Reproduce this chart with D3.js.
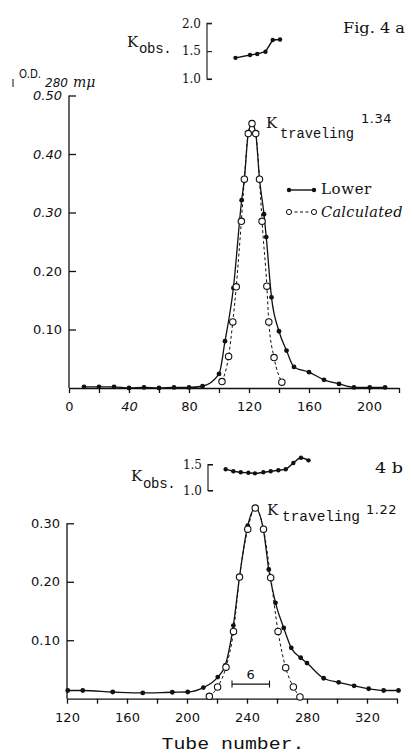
<!DOCTYPE html>
<html><head><meta charset="utf-8">
<script src="https://cdn.jsdelivr.net/npm/d3@7"></script>
<style>
html,body{margin:0;padding:0;background:#fff;}
svg{display:block;}
text{fill:#111;}
</style></head>
<body>
<svg id="c" width="413" height="755"></svg>
<script>
// ---------- DATA ----------
// Fig. 4a (tube number, O.D. 280 mμ)
const aLowerTube = [10,20,30,40,50,60,70,80,89,100,104,109.6,115.1,116.9,119.5,122,124.5,127,130,131.5,135,140,145,150,160,170,180,190,200.5,210.7];
const aLowerOD   = [0.002,0.002,0.002,0.0,0.001,0.0,0.001,0.001,0.003,0.024,0.080,0.171,0.321,0.357,0.435,0.452,0.435,0.357,0.297,0.258,0.155,0.097,0.064,0.036,0.027,0.014,0.007,0.001,0.001,0.001];
const aCalcTube  = [102,106.4,109.2,111.5,114.9,116.9,119.5,122,124.5,127,128.7,131.9,133.2,136.7,141.9];
const aCalcOD    = [0.011,0.054,0.113,0.173,0.285,0.357,0.435,0.452,0.435,0.357,0.285,0.174,0.113,0.052,0.010];
const aKTube     = [111,120.7,125.5,131,135.8,140.7];
const aKobs      = [1.38,1.43,1.45,1.49,1.70,1.71];
const aKtrav     = "1.34";
// Fig. 4b
const bLowerTube = [120.5,130.5,150.5,170.5,190.2,200.5,210.9,220.5,225.5,230.9,235,240.5,245.5,251,254.5,259,264.5,269.5,275.8,280,291.1,301.1,311.4,321.1,331.1,341];
const bLowerOD   = [0.014,0.014,0.0115,0.0098,0.011,0.0115,0.019,0.037,0.057,0.125,0.208,0.296,0.326,0.288,0.221,0.164,0.121,0.087,0.070,0.061,0.035,0.028,0.022,0.017,0.014,0.014];
const bCalcTube  = [214.9,220.4,226,231,235,240.5,245.5,251,255.8,260.7,265.8,270.9,275.3];
const bCalcOD    = [0.004,0.020,0.054,0.115,0.208,0.290,0.326,0.290,0.207,0.115,0.053,0.020,0.003];
const bKTube     = [225.8,230.9,235.8,240.9,245.3,250.9,255.8,260.9,265.8,270.9,276,281];
const bKobs      = [1.41,1.37,1.35,1.34,1.33,1.35,1.37,1.39,1.41,1.53,1.63,1.58];
const bKtrav     = "1.22";
const bScaleBar  = [230,255];
const bScaleLabel = "6";
// tick labels
const aXTicks = [0,20,40,60,80,100,120,140,160,180,200,220];
const aXLabels = [0,40,80,120,160,200];
const aYTicks = [0.10,0.20,0.30,0.40,0.50];
const bXTicks = [120,140,160,180,200,220,240,260,280,300,320,340];
const bXLabels = [120,160,200,240,280,320];
const bYTicks = [0.10,0.20,0.30];
const aKTicks = [1.0,1.5,2.0];
const bKTicks = [1.0,1.5];

// ---------- SCALES ----------
const svg = d3.select("#c");
const xA = d3.scaleLinear([0,220],[69,399]);
const yA = d3.scaleLinear([0,0.5],[388,95.5]);
const xB = d3.scaleLinear([120,340],[67,397]);
const yB = d3.scaleLinear([0,0.3],[698.7,523.3]);
const yKA = d3.scaleLinear([1,2],[79,23.3]);
const yKB = d3.scaleLinear([1,1.5],[490.5,464.5]);

const tickFont = "DejaVu Sans, sans-serif";
const monoFont = "Liberation Mono, DejaVu Sans Mono, monospace";
const serifFont = "DejaVu Serif, Liberation Serif, serif";

function styleAxis(g, w){
  g.selectAll("path.domain").attr("stroke","#111").attr("stroke-width",w);
  g.selectAll(".tick line").attr("stroke","#111").attr("stroke-width",w);
  g.selectAll(".tick text").attr("font-family",tickFont).attr("font-size",13).attr("fill","#111");
}

function panel(x, y, xTicks, xLabels, yTicks, italicY, italicX, lower, lowerV, calc, calcV){
  const gx = svg.append("g").attr("transform",`translate(0,${y(0)})`)
    .call(d3.axisBottom(x).tickValues(xTicks).tickSizeInner(5).tickSizeOuter(0).tickPadding(9)
      .tickFormat(d => xLabels.includes(d) ? d3.format("d")(d) : ""));
  styleAxis(gx,1.3);
  gx.selectAll(".tick text").attr("font-style", d => italicX.includes(d) ? "italic" : "normal");
  const gy = svg.append("g").attr("transform",`translate(${x.range()[0]},0)`)
    .call(d3.axisLeft(y).tickValues(yTicks).tickSizeInner(-7).tickSizeOuter(0).tickPadding(7)
      .tickFormat(d3.format(".2f")));
  gy.select("path.domain").attr("d",`M0,${y(0)}V${y(yTicks[yTicks.length-1])}`);
  styleAxis(gy,1.3);
  gy.selectAll(".tick text").attr("font-style", d => italicY.includes(d) ? "italic" : "normal");

  const lowerPts = lower.map((t,i)=>[x(t),y(lowerV[i])]);
  const calcPts = calc.map((t,i)=>[x(t),y(calcV[i])]);
  const line = d3.line().curve(d3.curveMonotoneX);
  svg.append("path").attr("d",line(calcPts)).attr("fill","none").attr("stroke","#111")
    .attr("stroke-width",1).attr("stroke-dasharray","3,2.5");
  svg.append("path").attr("d",line(lowerPts)).attr("fill","none").attr("stroke","#111")
    .attr("stroke-width",1.3);
  svg.append("g").selectAll("circle").data(lowerPts).join("circle")
    .attr("cx",d=>d[0]).attr("cy",d=>d[1]).attr("r",2.4).attr("fill","#111");
  svg.append("g").selectAll("circle").data(calcPts).join("circle")
    .attr("cx",d=>d[0]).attr("cy",d=>d[1]).attr("r",3.2).attr("fill","#fff")
    .attr("stroke","#111").attr("stroke-width",1.1);
}

panel(xA,yA,aXTicks,aXLabels,aYTicks,[0.3,0.4,0.5],[40],aLowerTube,aLowerOD,aCalcTube,aCalcOD);
panel(xB,yB,bXTicks,bXLabels,bYTicks,[],[],bLowerTube,bLowerOD,bCalcTube,bCalcOD);

// ---------- K obs insets ----------
function inset(ax, yK, ticks, tubes, vals, xs, curve){
  const g = svg.append("g").attr("transform",`translate(${ax},0)`)
    .call(d3.axisLeft(yK).tickValues(ticks).tickSizeInner(-5).tickSizeOuter(-5).tickPadding(6)
      .tickFormat(d3.format(".1f")));
  g.select("path.domain").attr("d",`M5,${yK.range()[0]}H0V${yK(ticks[ticks.length-1])}H5`);
  styleAxis(g,1.1);
  g.selectAll(".tick text").attr("font-size",12).attr("font-family",serifFont);
  const pts = tubes.map((t,i)=>[xs(t),yK(vals[i])]);
  svg.append("path").attr("d",d3.line().curve(curve)(pts)).attr("fill","none")
    .attr("stroke","#111").attr("stroke-width",1.4);
  svg.append("g").selectAll("circle").data(pts).join("circle")
    .attr("cx",d=>d[0]).attr("cy",d=>d[1]).attr("r",2.2).attr("fill","#111");
}
inset(207, yKA, aKTicks, aKTube, aKobs, xA, d3.curveLinear);
inset(208, yKB, bKTicks, bKTube, bKobs, xB, d3.curveMonotoneX);

// ---------- TEXT ----------
function txt(x,y,s,opts={}){
  const t = svg.append("text").attr("x",x).attr("y",y).text(s)
    .attr("font-family",opts.font||serifFont).attr("font-size",opts.size||13);
  if(opts.anchor) t.attr("text-anchor",opts.anchor);
  if(opts.style) t.attr("font-style",opts.style);
  if(opts.ls) t.attr("letter-spacing",opts.ls);
  if(opts.len) t.attr("textLength",opts.len).attr("lengthAdjust","spacingAndGlyphs");
  return t;
}
// K_obs labels
txt(127,47,"K",{size:15,font:serifFont});
txt(139,53,"obs.",{size:14,font:monoFont,ls:-0.3});
txt(131,481,"K",{size:15,font:serifFont});
txt(143,488,"obs.",{size:14,font:monoFont,ls:-0.3});
// Fig labels
txt(343,33,"Fig. 4 a",{size:15,font:serifFont,len:62});
txt(375,473,"4 b",{size:14,font:serifFont,len:28});
// O.D. label
svg.append("line").attr("x1",13).attr("x2",13).attr("y1",79).attr("y2",87).attr("stroke","#111").attr("stroke-width",1);
txt(19,78,"O.D.",{size:12,font:tickFont,len:22});
txt(45,87,"280",{size:12,font:tickFont,style:"italic"});
txt(73,87,"mμ",{size:14,font:serifFont,style:"italic"});
// K traveling
txt(266,128,"K",{size:15,font:serifFont});
txt(280,138,"traveling",{size:14,font:monoFont,len:74});
txt(361,123,aKtrav,{size:13,font:tickFont,ls:0.5});
txt(267,515,"K",{size:15,font:serifFont});
txt(282,521,"traveling",{size:14,font:monoFont,len:78});
txt(366,514,bKtrav,{size:13,font:tickFont,ls:0.5});
// Legend
const legX = [289,314];
svg.append("line").attr("x1",legX[0]).attr("x2",legX[1]).attr("y1",190).attr("y2",190).attr("stroke","#111").attr("stroke-width",1.4);
legX.forEach(v=>svg.append("circle").attr("cx",v).attr("cy",190).attr("r",2.2).attr("fill","#111"));
svg.append("line").attr("x1",legX[0]).attr("x2",legX[1]).attr("y1",212).attr("y2",212).attr("stroke","#111").attr("stroke-width",1).attr("stroke-dasharray","3,2.5");
legX.forEach(v=>svg.append("circle").attr("cx",v).attr("cy",212).attr("r",2.6).attr("fill","#fff").attr("stroke","#111").attr("stroke-width",1));
txt(321,194,"Lower",{size:15,font:serifFont,ls:0.6});
txt(321,217,"Calculated",{size:14.5,font:serifFont,style:"italic",ls:0.3});
// scale bar
const sbY = yB(0.025);
svg.append("line").attr("x1",xB(bScaleBar[0])).attr("x2",xB(bScaleBar[1])).attr("y1",sbY).attr("y2",sbY).attr("stroke","#111").attr("stroke-width",1.1);
bScaleBar.forEach(v=>svg.append("line").attr("x1",xB(v)).attr("x2",xB(v)).attr("y1",sbY-3.5).attr("y2",sbY+3.5).attr("stroke","#111").attr("stroke-width",1.1));
txt((xB(bScaleBar[0])+xB(bScaleBar[1]))/2, sbY-5, bScaleLabel, {size:13,font:tickFont,anchor:"middle"});
// x axis title
txt(233,749,"Tube number.",{size:16,font:monoFont,anchor:"middle",len:143});
</script>
</body></html>
